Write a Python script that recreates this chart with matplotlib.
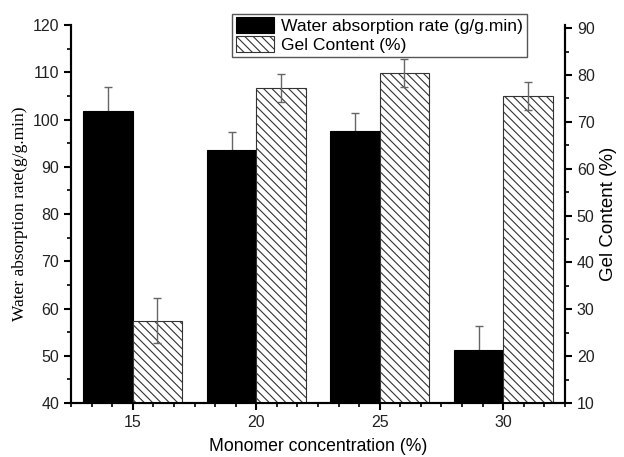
import matplotlib.pyplot as plt
from matplotlib.ticker import AutoMinorLocator, MultipleLocator

plt.rcParams['hatch.linewidth'] = 0.8
plt.rcParams['hatch.color'] = '#444444'

conc = [15, 20, 25, 30]
water_rate = [101.9, 93.5, 97.5, 51.3]
water_err = [4.9, 3.9, 3.9, 4.9]
gel_content = [27.6, 77.3, 80.5, 75.5]
gel_err = [4.9, 3.0, 3.0, 3.0]

sans = 'Liberation Sans'
serif = 'Liberation Serif'

fig = plt.figure(figsize=(6.24, 4.57), dpi=100)
ax = fig.add_axes([0.1138, 0.1182, 0.7916, 0.8268])
ax2 = ax.twinx()

w = 2
xw = [c - w / 2 for c in conc]
xg = [c + w / 2 for c in conc]

# error bars behind the black bars so only the upper half shows
ax.errorbar(xw, water_rate, yerr=water_err, fmt='none', ecolor='#666666',
            elinewidth=1, capsize=3, capthick=1, zorder=1)
b1 = ax.bar(xw, water_rate, width=w, color='black', edgecolor='black', linewidth=0.8,
            label='Water absorption rate (g/g.min)', zorder=2)

b2 = ax2.bar(xg, gel_content, width=w, color='white', edgecolor='#333333', linewidth=0.8,
             hatch='\\\\\\\\', label='Gel Content (%)', zorder=2)
ax2.errorbar(xg, gel_content, yerr=gel_err, fmt='none', ecolor='#666666',
             elinewidth=1, capsize=3, capthick=1, zorder=3)

ax.set_xlim(12.5, 32.5)
ax.set_ylim(40, 120)
ax2.set_ylim(10, 90.64)
ax.set_xticks(conc)
ax.xaxis.set_minor_locator(AutoMinorLocator(6))
ax.yaxis.set_major_locator(MultipleLocator(10))
ax.yaxis.set_minor_locator(AutoMinorLocator(2))
ax2.yaxis.set_major_locator(MultipleLocator(10))
ax2.yaxis.set_minor_locator(MultipleLocator(5))

for a in (ax, ax2):
    a.spines['top'].set_visible(False)
    for s in a.spines.values():
        s.set_linewidth(1.5)
    a.tick_params(which='major', direction='out', length=5, width=1.5, labelsize=11.5)
    a.tick_params(which='minor', direction='out', length=3, width=1.2)
    for lab in a.get_xticklabels() + a.get_yticklabels():
        lab.set_fontfamily(sans)
        lab.set_color('#222222')

ax.set_xlabel('Monomer concentration (%)', fontsize=12.7, fontfamily=sans, labelpad=6)
ax.set_ylabel('Water absorption rate(g/g.min)', fontsize=12.5, fontfamily=serif, labelpad=3)
ax2.set_ylabel('Gel Content (%)', fontsize=13.5, fontfamily=sans, labelpad=4)

leg = ax.legend([b1, b2], ['Water absorption rate (g/g.min)', 'Gel Content (%)'],
                loc='upper left', bbox_to_anchor=(0.326, 1.03), fancybox=False,
                edgecolor='#555555', framealpha=1, borderpad=0.2, labelspacing=0.12,
                handlelength=2.2, handleheight=1.0, handletextpad=0.4, borderaxespad=0,
                prop={'family': sans, 'size': 12.6})
leg.get_frame().set_linewidth(1)
leg.set_zorder(5)

fig.savefig('out.png', dpi=100)
